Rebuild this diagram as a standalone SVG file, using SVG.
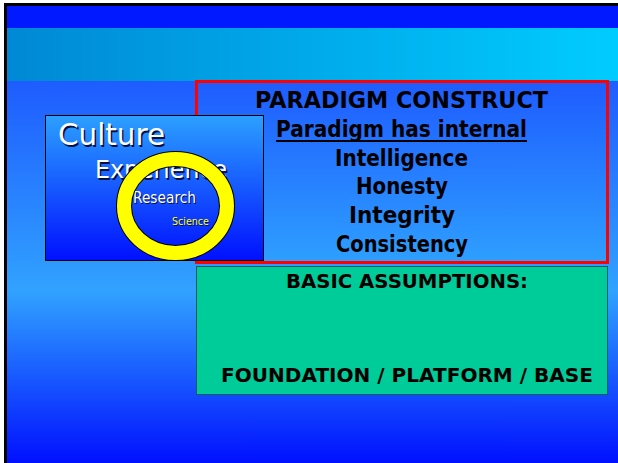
<svg xmlns="http://www.w3.org/2000/svg" width="618" height="463" viewBox="0 0 618 463">
<defs>
<linearGradient id="bgLow" x1="0" y1="81" x2="0" y2="463" gradientUnits="userSpaceOnUse">
<stop offset="0" stop-color="#1E5CFF"/>
<stop offset="0.55" stop-color="#31A2FF"/>
<stop offset="1" stop-color="#0010FF"/>
</linearGradient>
<linearGradient id="band" x1="0" y1="0" x2="1" y2="0">
<stop offset="0" stop-color="#0088D5"/>
<stop offset="1" stop-color="#00CCFF"/>
</linearGradient>
<linearGradient id="redFill" x1="0" y1="0" x2="0" y2="1">
<stop offset="0" stop-color="#1E5CFF"/>
<stop offset="1" stop-color="#2E9FFF"/>
</linearGradient>
<linearGradient id="cultFill" x1="0" y1="0" x2="0" y2="1">
<stop offset="0" stop-color="#2CA0FF"/>
<stop offset="1" stop-color="#0010FF"/>
</linearGradient>
<style>
.b{font-family:"DejaVu Sans","Liberation Sans",sans-serif;font-weight:bold;fill:#000;text-anchor:middle}
.c{font-family:"DejaVu Sans","Liberation Sans",sans-serif;font-weight:normal}
.w{fill:#FFFFFF}
.sh{fill:#001040}
.y{fill:#FFFF33}
</style>
</defs>
<g id="background">
<rect x="0" y="0" width="618" height="463" fill="#FFFFFF"/>
<rect x="5" y="5" width="613" height="458" fill="url(#bgLow)"/>
<rect x="5" y="5" width="613" height="23" fill="#0019FF"/>
<rect x="5" y="28" width="613" height="53" fill="url(#band)"/>
<rect x="4" y="3" width="614" height="3" fill="#000"/>
<rect x="4" y="3" width="3" height="460" fill="#000"/>
</g>
<g id="connectors"/>
<g id="paradigm">
<rect x="196.5" y="81.5" width="411" height="181" fill="url(#redFill)" stroke="#FF0000" stroke-width="3"/>
<text class="b" x="401.5" y="108" font-size="23" textLength="293" lengthAdjust="spacingAndGlyphs">PARADIGM CONSTRUCT</text>
<text class="b" x="401.5" y="137" font-size="23" textLength="251" lengthAdjust="spacingAndGlyphs">Paradigm has internal</text>
<rect x="276" y="140" width="251" height="2" fill="#000"/>
<text class="b" x="401.5" y="166" font-size="23" textLength="133" lengthAdjust="spacingAndGlyphs">Intelligence</text>
<text class="b" x="402" y="194" font-size="23" textLength="92" lengthAdjust="spacingAndGlyphs">Honesty</text>
<text class="b" x="402" y="223" font-size="23" textLength="106" lengthAdjust="spacingAndGlyphs">Integrity</text>
<text class="b" x="402" y="252" font-size="23" textLength="132" lengthAdjust="spacingAndGlyphs">Consistency</text>
</g>
<g id="assumptions">
<rect x="196.5" y="266.5" width="411" height="128" fill="#00CC99" stroke="#006060" stroke-width="1"/>
<text class="b" x="407" y="288" font-size="19" textLength="242" lengthAdjust="spacingAndGlyphs">BASIC ASSUMPTIONS:</text>
<text class="b" x="407" y="382" font-size="19" textLength="372" lengthAdjust="spacingAndGlyphs">FOUNDATION / PLATFORM / BASE</text>
</g>
<g id="culture">
<rect x="45.5" y="115.5" width="218" height="145" fill="url(#cultFill)" stroke="#000" stroke-width="1"/>
<text class="c sh" x="59.5" y="146.5" font-size="30" textLength="107" lengthAdjust="spacingAndGlyphs">Culture</text>
<text class="c w" x="58" y="145" font-size="30" textLength="107" lengthAdjust="spacingAndGlyphs">Culture</text>
<text class="c sh" x="96.5" y="179.5" font-size="25" textLength="132" lengthAdjust="spacingAndGlyphs">Experience</text>
<text class="c w" x="95" y="178" font-size="25" textLength="132" lengthAdjust="spacingAndGlyphs">Experience</text>
<text class="c sh" x="134" y="204" font-size="15" textLength="63" lengthAdjust="spacingAndGlyphs">Research</text>
<text class="c w" x="133" y="203" font-size="15" textLength="63" lengthAdjust="spacingAndGlyphs">Research</text>
<text class="c sh" x="173" y="226" font-size="11" textLength="37" lengthAdjust="spacingAndGlyphs">Science</text>
<text class="c y" x="172" y="225" font-size="11" textLength="37" lengthAdjust="spacingAndGlyphs">Science</text>
</g>
<g id="ring">
<ellipse cx="175.5" cy="206" rx="51.5" ry="47" fill="none" stroke="#000" stroke-width="16"/>
<ellipse cx="175.5" cy="206" rx="51.5" ry="47" fill="none" stroke="#FFFF00" stroke-width="14"/>
</g>
</svg>
